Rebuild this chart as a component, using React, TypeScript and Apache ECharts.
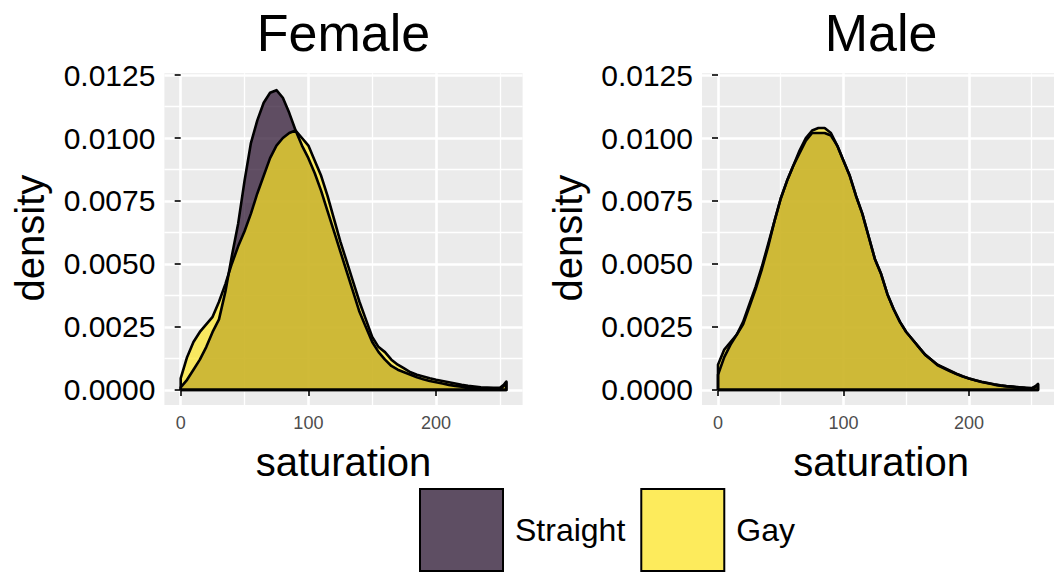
import React, { useEffect, useRef } from 'react';
import * as echarts from 'echarts';

// saturation grid at which the densities were read
const SATURATION = [
  0, 5, 10, 15, 20, 25, 30, 35, 40, 45,
  50, 55, 60, 65, 70, 75, 80, 85, 90, 95,
  100, 105, 110, 115, 120, 125, 130, 135, 140, 145,
  150, 155, 160, 165, 170, 175, 180, 185, 190, 195,
  200, 205, 210, 215, 220, 225, 230, 235, 240, 245,
  250, 253, 255,
];

const FEMALE_STRAIGHT = [
  0.0001, 0.0004, 0.0008, 0.0012, 0.0017, 0.0023, 0.0028, 0.0039, 0.0053, 0.0066,
  0.0083, 0.0098, 0.0107, 0.0114, 0.0118, 0.0119, 0.0116, 0.0110, 0.0103, 0.0097,
  0.0092, 0.0086, 0.0079, 0.0071, 0.0063, 0.0055, 0.0047, 0.0039, 0.0031, 0.0025,
  0.0019, 0.0015, 0.0012, 0.00095, 0.0008, 0.0007, 0.0006, 0.0005, 0.00042, 0.00035,
  0.0003, 0.00025, 0.0002, 0.00016, 0.00013, 0.0001, 0.00009, 0.00007, 0.00006, 0.00005,
  0.00005, 0.00015, 0.0003,
];

const FEMALE_GAY = [
  0.00046, 0.0013, 0.0019, 0.0023, 0.0026, 0.0029, 0.0035, 0.0042, 0.0050, 0.0057,
  0.0063, 0.0070, 0.0078, 0.0085, 0.0092, 0.0097, 0.0100, 0.0102, 0.0103, 0.0100,
  0.0097, 0.0091, 0.0085, 0.0077, 0.0068, 0.0059, 0.0051, 0.0043, 0.0035, 0.0028,
  0.0021, 0.0017, 0.0015, 0.0012, 0.0010, 0.00085, 0.0007, 0.0006, 0.00053, 0.00046,
  0.0004, 0.00035, 0.0003, 0.00025, 0.0002, 0.00016, 0.00013, 0.0001, 0.00009, 0.00008,
  0.00008, 0.0002, 0.00033,
];

const MALE_STRAIGHT = [
  0.0006, 0.0013, 0.0018, 0.0022, 0.0027, 0.0034, 0.0041, 0.0049, 0.0058, 0.0067,
  0.0076, 0.0083, 0.0089, 0.0094, 0.0099, 0.0102, 0.0102, 0.0102, 0.0101, 0.0097,
  0.0091, 0.0085, 0.0077, 0.0070, 0.0061, 0.0052, 0.0046, 0.0038, 0.0032, 0.0027,
  0.0023, 0.0020, 0.0017, 0.0014, 0.0012, 0.0010, 0.00088, 0.00076, 0.00064, 0.00054,
  0.00045, 0.00038, 0.00031, 0.00026, 0.00021, 0.00017, 0.00014, 0.00012, 0.0001, 0.00008,
  0.00006, 0.00012, 0.00022,
];

const MALE_GAY = [
  0.0010, 0.0016, 0.0019, 0.0022, 0.0026, 0.0033, 0.0040, 0.0048, 0.0057, 0.0067,
  0.0076, 0.0083, 0.0089, 0.0095, 0.0100, 0.0103, 0.0104, 0.0104, 0.0102, 0.0097,
  0.0091, 0.0085, 0.0077, 0.0070, 0.0061, 0.0052, 0.0046, 0.0038, 0.0032, 0.0027,
  0.0023, 0.0020, 0.0017, 0.0014, 0.0012, 0.00098, 0.00086, 0.00074, 0.00063, 0.00053,
  0.00045, 0.00038, 0.00032, 0.00027, 0.00022, 0.00018, 0.00015, 0.00013, 0.0001, 0.00008,
  0.00007, 0.00015, 0.00024,
];

const PANELS = ['Female', 'Male'];
const GROUPS = ['Straight', 'Gay'];
const X_MAJOR = [0, 100, 200];
const X_MINOR = [50, 150, 250];
const Y_MAJOR = [0, 0.0025, 0.005, 0.0075, 0.01, 0.0125];
const Y_MINOR = [0.00125, 0.00375, 0.00625, 0.00875, 0.01125];
const X_MIN = -12.75;
const X_MAX = 267.75;
const Y_MIN = -0.0006;
const Y_MAX = 0.01257;

const FONT = '"Liberation Sans", Arial, Helvetica, sans-serif';
const FILL_STRAIGHT = 'rgba(40,15,45,0.72)';
const FILL_GAY = 'rgba(253,231,37,0.7)';
const LEGEND_STRAIGHT = '#5e4e63';
const LEGEND_GAY = '#fdeb5c';

function polygon(values: number[]) {
  const pts: number[][] = [[SATURATION[0], 0]];
  SATURATION.forEach((x, i) => pts.push([x, values[i]]));
  pts.push([SATURATION[SATURATION.length - 1], 0]);
  pts.push([SATURATION[0], 0]);
  return pts;
}

export default function App() {
  const ref = useRef<HTMLDivElement>(null);

  useEffect(() => {
    document.body.style.margin = '0';
    const chart = echarts.init(ref.current!, undefined, { renderer: 'svg' });

    const grids = [
      { left: 164.4, top: 73.3, width: 358.2, height: 331.7 },
      { left: 702, top: 73.3, width: 358.2, height: 331.7 },
    ];

    const xAxes: any[] = [];
    const yAxes: any[] = [];
    grids.forEach((_, gi) => {
      xAxes.push({
        type: 'value', gridIndex: gi, min: X_MIN, max: X_MAX, position: 'bottom',
        axisLine: { show: false },
        axisTick: { show: true, length: 6, lineStyle: { color: '#333333', width: 2 }, customValues: X_MAJOR },
        axisLabel: { show: true, customValues: X_MAJOR, color: '#4d4d4d', fontSize: 18, margin: 9, fontFamily: FONT },
        splitLine: { show: true, lineStyle: { color: '#ffffff', width: 2.6 } },
      });
      xAxes.push({
        type: 'value', gridIndex: gi, min: X_MIN, max: X_MAX, position: 'top',
        axisLine: { show: false },
        axisTick: { show: false, customValues: X_MINOR },
        axisLabel: { show: false, customValues: X_MINOR },
        splitLine: { show: true, lineStyle: { color: '#ffffff', width: 1.3 } },
      });
      yAxes.push({
        type: 'value', gridIndex: gi, min: Y_MIN, max: Y_MAX, position: 'left',
        axisLine: { show: false },
        axisTick: { show: true, length: 6, lineStyle: { color: '#333333', width: 2 }, customValues: Y_MAJOR },
        axisLabel: {
          show: true, customValues: Y_MAJOR, color: '#000000', fontSize: 30, margin: 9, fontFamily: FONT,
          formatter: (v: number) => v.toFixed(4),
        },
        splitLine: { show: true, lineStyle: { color: '#ffffff', width: 2.6 } },
      });
      yAxes.push({
        type: 'value', gridIndex: gi, min: Y_MIN, max: Y_MAX, position: 'right',
        axisLine: { show: false },
        axisTick: { show: false, customValues: Y_MINOR },
        axisLabel: { show: false, customValues: Y_MINOR },
        splitLine: { show: true, lineStyle: { color: '#ffffff', width: 1.3 } },
      });
    });

    const mk = (name: string, gi: number, values: number[], fill: string) => ({
      type: 'line',
      name,
      xAxisIndex: gi * 2,
      yAxisIndex: gi * 2,
      data: polygon(values),
      symbol: 'none',
      showSymbol: false,
      smooth: false,
      silent: true,
      lineStyle: { color: '#000000', width: 2.6, join: 'round' },
      itemStyle: { color: fill },
      areaStyle: { color: fill, opacity: 1 },
      z: 3,
    });

    const texts: any[] = [];
    const centers = grids.map((g) => g.left + g.width / 2);
    PANELS.forEach((p, i) => {
      texts.push({
        type: 'text', x: centers[i], y: 33, silent: true,
        style: { text: p, fontSize: 52, fontFamily: FONT, fill: '#000', align: 'center', verticalAlign: 'middle' },
      });
      texts.push({
        type: 'text', x: centers[i], y: 462, silent: true,
        style: { text: 'saturation', fontSize: 40, fontFamily: FONT, fill: '#000', align: 'center', verticalAlign: 'middle' },
      });
      texts.push({
        type: 'text', x: i === 0 ? 30 : 568, y: 238, rotation: Math.PI / 2, silent: true,
        style: { text: 'density', fontSize: 40, fontFamily: FONT, fill: '#000', align: 'center', verticalAlign: 'middle' },
      });
    });

    chart.setOption({
      animation: false,
      textStyle: { fontFamily: FONT },
      grid: grids.map((g) => ({ ...g, show: true, backgroundColor: '#ebebeb', borderWidth: 0, containLabel: false })),
      xAxis: xAxes,
      yAxis: yAxes,
      legend: {
        left: 419, top: 488, orient: 'horizontal', padding: 0,
        itemWidth: 83, itemHeight: 82, itemGap: 15,
        selectedMode: false,
        textStyle: { fontSize: 32, color: '#000', fontFamily: FONT, padding: [0, 0, 0, 7] },
        data: [
          { name: GROUPS[0], icon: 'rect', itemStyle: { color: LEGEND_STRAIGHT, borderColor: '#000', borderWidth: 2 } },
          { name: GROUPS[1], icon: 'rect', itemStyle: { color: LEGEND_GAY, borderColor: '#000', borderWidth: 2 } },
        ],
      },
      series: [
        mk(GROUPS[0], 0, FEMALE_STRAIGHT, FILL_STRAIGHT),
        mk(GROUPS[1], 0, FEMALE_GAY, FILL_GAY),
        mk(GROUPS[0], 1, MALE_STRAIGHT, FILL_STRAIGHT),
        mk(GROUPS[1], 1, MALE_GAY, FILL_GAY),
      ],
      graphic: texts,
    });

    return () => chart.dispose();
  }, []);

  return (
    <div
      ref={ref}
      style={{ position: 'absolute', left: 0, top: 0, width: 1054, height: 573, overflow: 'hidden', background: '#fff' }}
    />
  );
}
